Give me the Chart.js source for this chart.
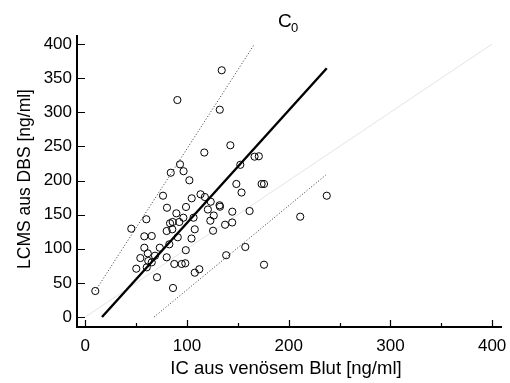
<!DOCTYPE html>
<html>
<head>
<meta charset="utf-8">
<script src="https://cdn.jsdelivr.net/npm/chart.js@4.4.1/dist/chart.umd.min.js"></script>
<style>
  html, body { margin: 0; padding: 0; background: #fff; }
  #wrap { width: 510px; height: 383px; }
</style>
</head>
<body>
<div id="wrap"><canvas id="chart" width="510" height="383"></canvas></div>
<script>
// Messwerte: IC aus venösem Blut (x) gegen LCMS aus DBS (y)
const icBlut = [
  134.1, 90.5, 132.2, 142.6, 117.0, 93.1, 84.0, 96.6, 152.4, 166.4,
  170.6, 102.3, 148.5, 153.6, 173.3, 175.7, 76.4, 113.3, 117.5, 104.6,
  123.3, 80.3, 99.0, 89.5, 120.5, 132.0, 132.4, 144.5, 161.5, 60.0,
  45.2, 83.3, 85.9, 92.4, 96.4, 106.4, 126.3, 122.9, 137.4, 144.4,
  80.0, 85.5, 107.6, 125.6, 58.0, 65.3, 90.9, 104.4, 82.6, 58.0,
  73.2, 98.8, 61.4, 68.5, 54.1, 80.0, 61.9, 65.3, 138.5, 157.3,
  87.5, 94.8, 98.3, 50.1, 60.4, 70.5, 107.6, 112.1, 86.2, 9.8,
  175.7, 211.3, 237.4
];
const lcmsDbs = [
  361.5, 317.9, 303.7, 251.6, 241.0, 223.7, 211.4, 213.6, 223.0, 234.9,
  235.5, 200.3, 194.9, 182.4, 194.9, 194.9, 177.7, 179.8, 175.8, 173.9,
  168.9, 160.1, 161.2, 151.9, 157.5, 163.7, 161.6, 154.3, 155.3, 143.2,
  129.4, 137.3, 139.2, 139.2, 145.5, 145.5, 148.7, 141.1, 135.2, 138.5,
  126.0, 128.5, 128.5, 126.4, 118.2, 118.7, 116.8, 115.0, 106.5, 101.5,
  101.5, 97.9, 93.3, 89.8, 86.4, 87.5, 82.1, 80.1, 90.5, 102.6,
  77.7, 77.7, 78.7, 70.8, 72.8, 58.2, 64.9, 70.0, 42.5, 38.1,
  76.6, 147.0, 177.7
];

// Regressionsgerade, Vorhersagegrenzen und Winkelhalbierende (Endpunkte)
const regX = [16.4, 237.4];
const regY = [0, 364.5];
const obenX = [9.8, 166.2];
const obenY = [38.1, 399.6];
const untenX = [67.6, 236.4];
const untenY = [0, 208];
const idX = [0, 400];
const idY = [0, 400];

const xTicks = [0, 100, 200, 300, 400];
const xMinorTicks = [50, 150, 250, 350];
const yTicks = [0, 50, 100, 150, 200, 250, 300, 350, 400];

const FONT = "'Liberation Sans', Arial, sans-serif";

function pts(xs, ys) {
  return xs.map((x, i) => ({ x: x, y: ys[i] }));
}

// Achsen mit nach innen zeigenden Ticks und Beschriftungen
const achsenPlugin = {
  id: 'achsen',
  afterDraw(chart) {
    const ctx = chart.ctx;
    const xs = chart.scales.x;
    const ys = chart.scales.y;
    const a = chart.chartArea;
    ctx.save();
    ctx.strokeStyle = '#000';
    ctx.lineWidth = 2;
    ctx.beginPath();
    ctx.moveTo(a.left - 1, a.top);
    ctx.lineTo(a.left - 1, a.bottom);
    ctx.lineTo(a.right, a.bottom);
    ctx.stroke();

    ctx.lineWidth = 1.2;
    ctx.beginPath();
    yTicks.forEach(v => {
      const py = Math.round(ys.getPixelForValue(v)) + 0.5;
      ctx.moveTo(a.left, py);
      ctx.lineTo(a.left + 7, py);
    });
    xTicks.forEach(v => {
      const px = Math.round(xs.getPixelForValue(v)) + 0.5;
      ctx.moveTo(px, a.bottom);
      ctx.lineTo(px, a.bottom - 7);
    });
    xMinorTicks.forEach(v => {
      const px = Math.round(xs.getPixelForValue(v)) + 0.5;
      ctx.moveTo(px, a.bottom);
      ctx.lineTo(px, a.bottom - 4);
    });
    ctx.stroke();

    ctx.fillStyle = '#000';
    // Titel C mit tiefgestellter 0
    ctx.textBaseline = 'alphabetic';
    ctx.textAlign = 'left';
    ctx.font = '19px ' + FONT;
    ctx.fillText('C', 278, 27);
    ctx.font = '13px ' + FONT;
    ctx.fillText('0', 291, 32);

    // Achsentitel
    ctx.textAlign = 'center';
    ctx.textBaseline = 'middle';
    ctx.font = '18.5px ' + FONT;
    ctx.fillText('IC aus venösem Blut [ng/ml]', 286, 369);
    ctx.save();
    ctx.translate(25, 179);
    ctx.rotate(-Math.PI / 2);
    ctx.font = '17.5px ' + FONT;
    ctx.fillText('LCMS aus DBS [ng/ml]', 0, 0);
    ctx.restore();
    ctx.restore();
  }
};

new Chart(document.getElementById('chart'), {
  type: 'scatter',
  data: {
    datasets: [
      {
        data: pts(icBlut, lcmsDbs),
        showLine: false,
        pointStyle: 'circle',
        pointRadius: 3.6,
        pointBorderWidth: 1,
        pointBorderColor: '#000',
        pointBackgroundColor: 'rgba(0,0,0,0)',
        order: 0
      },
      {
        data: pts(regX, regY),
        showLine: true,
        borderColor: '#000',
        borderWidth: 2.4,
        pointRadius: 0,
        order: 1
      },
      {
        data: pts(obenX, obenY),
        showLine: true,
        borderColor: '#333',
        borderWidth: 1,
        borderDash: [1, 2],
        pointRadius: 0,
        order: 2
      },
      {
        data: pts(untenX, untenY),
        showLine: true,
        borderColor: '#333',
        borderWidth: 1,
        borderDash: [1, 2],
        pointRadius: 0,
        order: 2
      },
      {
        data: pts(idX, idY),
        showLine: true,
        borderColor: '#e4e4e4',
        borderWidth: 1,
        pointRadius: 0,
        order: 3
      }
    ]
  },
  options: {
    responsive: false,
    animation: false,
    layout: { padding: { left: 0, right: 8, top: 35, bottom: 0 } },
    plugins: {
      legend: { display: false },
      tooltip: { enabled: false }
    },
    scales: {
      x: {
        type: 'linear',
        min: -7.2,
        max: 409.7,
        afterBuildTicks: s => { s.ticks = xTicks.map(v => ({ value: v })); },
        afterFit: s => { s.height = 56; s.paddingLeft = 0; s.paddingRight = 0; },
        grid: { display: false, drawTicks: false },
        border: { display: false },
        ticks: {
          padding: 9,
          color: '#000',
          font: { family: FONT, size: 17 },
          maxRotation: 0
        }
      },
      y: {
        type: 'linear',
        min: -14.65,
        max: 413.2,
        afterBuildTicks: s => { s.ticks = yTicks.map(v => ({ value: v })); },
        afterFit: s => { s.width = 78; s.paddingTop = 0; s.paddingBottom = 0; },
        grid: { display: false, drawTicks: false },
        border: { display: false },
        ticks: {
          padding: 6,
          color: '#000',
          font: { family: FONT, size: 17 }
        }
      }
    }
  },
  plugins: [achsenPlugin]
});
</script>
</body>
</html>
